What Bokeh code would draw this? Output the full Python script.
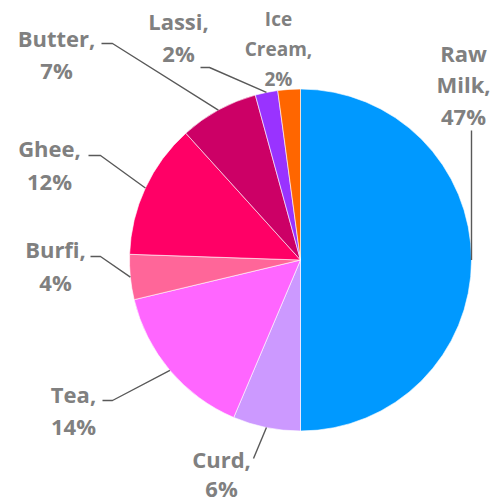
import math
from bokeh.plotting import figure
from bokeh.models import Range1d, ColumnDataSource
from bokeh.core.properties import value
from bokeh.embed import file_html
from bokeh.resources import INLINE

# ---- data ----
categories = ["Raw Milk", "Curd", "Tea", "Burfi", "Ghee", "Butter", "Lassi", "Ice Cream"]
values = [47, 6, 14, 4, 12, 7, 2, 2]
colors = ["#0099FF", "#CC99FF", "#FF66FF", "#FF6699", "#FF0066", "#CC0066", "#9933FF", "#FF6600"]

# ---- layout (screen px) ----
W, H = 493, 501
def d(sx, sy):
    return sx, H - sy

CX, CY = d(300, 259.5)
R = 171

# label layout: (center x, first line y, line spacing, font size, lines split, leader elbow)
label_layout = {
    "Raw Milk": (463, 52, 31.5, "22px", ["Raw", "Milk,"], None),
    "Curd": (221, 458, 29, "22px", ["Curd,"], None),
    "Tea": (73, 393, 32, "22px", ["Tea,"], (102, 112, 400)),
    "Burfi": (55, 248, 33, "22px", ["Burfi,"], (90, 100, 256)),
    "Ghee": (49, 147, 33, "22px", ["Ghee,"], (88, 100, 155)),
    "Butter": (56, 37, 32, "22px", ["Butter,"], (101, 112, 43)),
    "Lassi": (178, 20, 32, "22px", ["Lassi,"], (200, 209, 67)),
    "Ice Cream": (278, 18, 30, "19px", ["Ice", "Cream,"], None),
}
leader_plain = {"Raw Milk": (471, 130), "Curd": (253, 458)}

p = figure(width=W, height=H, output_backend="svg", toolbar_location=None,
           x_range=Range1d(0, W), y_range=Range1d(0, H),
           x_axis_type=None, y_axis_type=None, min_border=0)
p.outline_line_color = None
p.grid.visible = False
p.background_fill_color = "white"
p.border_fill_color = "white"

total = sum(values)
starts, ends, mids = [], [], []
acc = 0.0
for v in values:
    a0 = math.pi / 2 - 2 * math.pi * acc / total
    acc += v
    a1 = math.pi / 2 - 2 * math.pi * acc / total
    starts.append(a0)
    ends.append(a1)
    mids.append((a0 + a1) / 2)

src = ColumnDataSource(dict(start=ends, end=starts, color=colors, cat=categories))
p.wedge(x=CX, y=CY, radius=R, start_angle="start", end_angle="end",
        direction="anticlock", fill_color="color", line_color="white", line_width=0.6,
        source=src)

# leader lines
for cat, mid in zip(categories, mids):
    ax = CX + R * math.cos(mid)
    ay = CY + R * math.sin(mid)
    lay = label_layout[cat]
    if lay[5] is not None:
        x0, x1, ly = lay[5]
        (dx0, dy0), (dx1, dy1) = d(x0, ly), d(x1, ly)
        p.line([dx0, dx1, ax], [dy0, dy1, ay], line_color="#595959", line_width=1.4)
    elif cat in leader_plain:
        sx, sy = leader_plain[cat]
        dx, dy = d(sx, sy)
        p.line([dx, ax], [dy, ay], line_color="#595959", line_width=1.4)

# labels
for cat, v in zip(categories, values):
    cx, y0, sp, fs, lines, _ = label_layout[cat]
    all_lines = lines + [f"{v}%"]
    xs, ys = [], []
    for i, t in enumerate(all_lines):
        x, y = d(cx, y0 + i * sp)
        xs.append(x)
        ys.append(y)
    p.text(x=xs, y=ys, text=all_lines, text_align="center", text_baseline="middle",
           text_font=value("Open Sans"), text_font_style="bold", text_font_size=fs,
           text_color="#808080")

open("out.html", "w").write(file_html(p, INLINE))
